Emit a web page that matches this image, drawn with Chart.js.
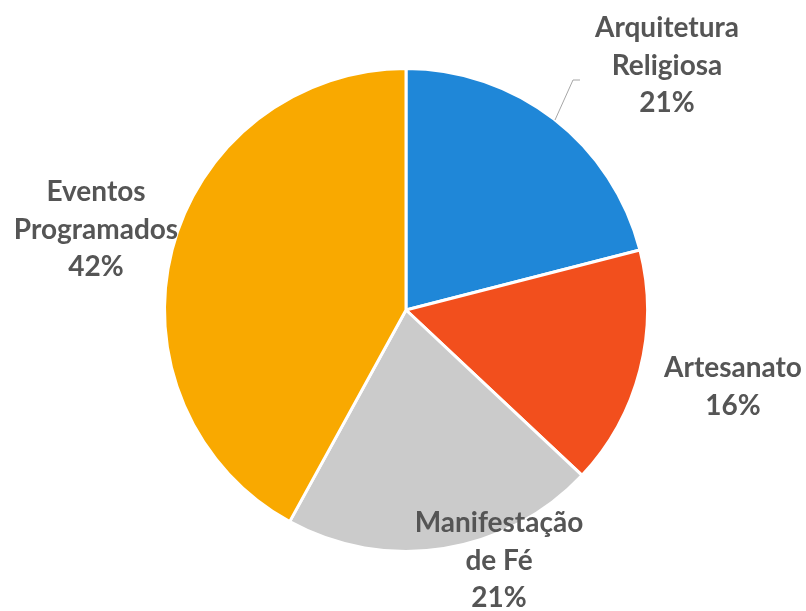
<!DOCTYPE html>
<html>
<head>
<meta charset="utf-8">
<script src="https://cdn.jsdelivr.net/npm/chart.js@4"></script>
<style>
  html, body { margin: 0; padding: 0; background: #fff; }
  #wrap { width: 806px; height: 611px; }
</style>
</head>
<body>
<div id="wrap"><canvas id="pie"></canvas></div>
<script>
// data
const categories = [['Arquitetura', 'Religiosa'], ['Artesanato'], ['Manifestação', 'de Fé'], ['Eventos', 'Programados']];
const shares = [21, 16, 21, 42];
const sliceColors = ['#1f87d8', '#f24f1d', '#cbcbcb', '#f9a900'];

// where each label sits (centre of the text block, first line)
const labelPos = [[667, 28], [733, 368], [499, 523], [96, 192]];

const labelPlugin = {
  id: 'labels',
  afterDatasetsDraw(chart) {
    const ctx = chart.ctx;
    ctx.save();

    // leader line for Arquitetura Religiosa
    ctx.strokeStyle = '#a6a6a6';
    ctx.lineWidth = 1;
    ctx.beginPath();
    ctx.moveTo(580, 80);
    ctx.lineTo(573, 80);
    ctx.lineTo(555, 120);
    ctx.stroke();

    ctx.font = 'bold 28px Lato';
    ctx.fillStyle = '#555555';
    ctx.textAlign = 'center';
    ctx.textBaseline = 'middle';
    categories.forEach((lines, i) => {
      const [x, y] = labelPos[i];
      const all = lines.concat([shares[i] + '%']);
      all.forEach((t, j) => ctx.fillText(t, x, y + j * 37.5));
    });
    ctx.restore();
  }
};

new Chart(document.getElementById('pie'), {
  type: 'pie',
  data: {
    labels: categories.map(l => l.join(' ')),
    datasets: [{
      data: shares,
      backgroundColor: sliceColors,
      borderColor: '#ffffff',
      borderWidth: 3
    }]
  },
  options: {
    responsive: true,
    maintainAspectRatio: false,
    animation: false,
    layout: { padding: { top: 67, bottom: 58, left: 163, right: 157 } },
    plugins: {
      legend: { display: false },
      tooltip: { enabled: false }
    }
  },
  plugins: [labelPlugin]
});
</script>
</body>
</html>
